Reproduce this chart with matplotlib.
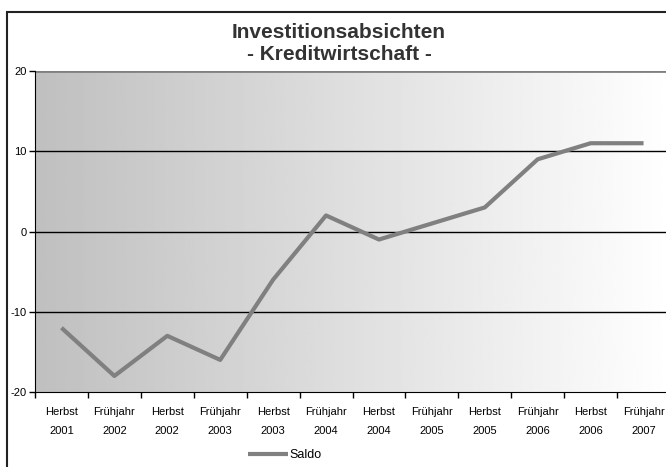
import numpy as np
import matplotlib
matplotlib.use('Agg')
import matplotlib.pyplot as plt
from matplotlib.patches import Rectangle

plt.rcParams['font.family'] = ['Liberation Sans', 'DejaVu Sans']

# Daten
zeitpunkte = ['Herbst\n2001', 'Frühjahr\n2002', 'Herbst\n2002', 'Frühjahr\n2003',
              'Herbst\n2003', 'Frühjahr\n2004', 'Herbst\n2004', 'Frühjahr\n2005',
              'Herbst\n2005', 'Frühjahr\n2006', 'Herbst\n2006', 'Frühjahr\n2007']
saldo = [-12, -18, -13, -16, -6, 2, -1, 1, 3, 9, 11, 11]
y_ticks = [-20, -10, 0, 10, 20]

W, H = 666, 467
fig = plt.figure(figsize=(W / 100, H / 100), dpi=100)

# Rahmen um das Diagramm
fig.patches.append(Rectangle((7 / W, -0.1), 1.1, 1 - 12 / H + 0.1, transform=fig.transFigure,
                             fill=False, edgecolor='#222222', linewidth=1.5))

ax = fig.add_axes([35 / W, 1 - 392 / H, (670 - 35) / W, 321 / H])
x = np.arange(len(saldo))
ax.set_xlim(-0.5, len(saldo) - 0.5)
ax.set_ylim(-20, 20)

# Farbverlauf grau -> weiss
grad = np.linspace(0.75, 1.0, 256).reshape(1, -1)
ax.imshow(grad, cmap='gray', vmin=0, vmax=1, aspect='auto',
          extent=(-0.5, len(saldo) - 0.5, -20, 20), zorder=0)

for v in [-10, 0, 10]:
    ax.axhline(v, color='black', linewidth=1, zorder=1)
ax.axhline(20, color='#808080', linewidth=2, zorder=1)

ax.plot(x, saldo, color='#808080', linewidth=3, label='Saldo', zorder=3,
        solid_capstyle='butt')

for s in ['top', 'right']:
    ax.spines[s].set_visible(False)
ax.spines['left'].set_color('black')
ax.spines['bottom'].set_color('black')

ax.set_yticks(y_ticks)
ax.set_yticklabels([str(v) for v in y_ticks], fontsize=8)
ax.tick_params(axis='y', length=4, width=1, pad=2)

# Kategorien: Ticks zwischen den Punkten, Beschriftung in der Mitte
ax.set_xticks(np.arange(-0.5, len(saldo), 1.0))
ax.set_xticklabels([])
ax.set_xticks(x, minor=True)
ax.set_xticklabels(zeitpunkte, minor=True, fontsize=8, linespacing=2.1)
ax.tick_params(axis='x', which='major', length=4, width=1)
ax.tick_params(axis='x', which='minor', length=0, pad=11)

fig.text(339 / W, 1 - 33 / H, 'Investitionsabsichten', ha='center', va='center',
         fontsize=15, fontweight='bold', color='#333333')
fig.text(339 / W, 1 - 55 / H, '- Kreditwirtschaft -', ha='center', va='center',
         fontsize=15, fontweight='bold', color='#333333')

fig.legend(loc='center', bbox_to_anchor=(285 / W, 1 - 455 / H), frameon=False,
           fontsize=9, handlelength=3.2, handletextpad=0.1)

fig.savefig('out.png', dpi=100)
